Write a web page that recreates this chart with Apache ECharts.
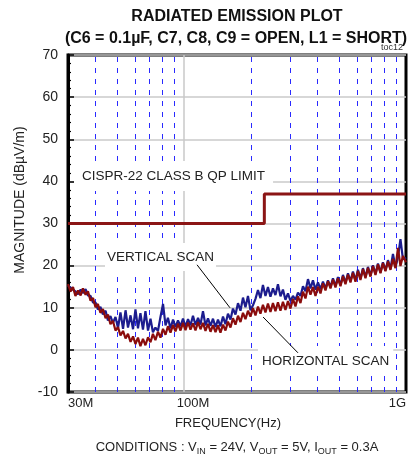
<!DOCTYPE html>
<html>
<head>
<meta charset="utf-8">
<script src="https://cdn.jsdelivr.net/npm/echarts@6/dist/echarts.min.js"></script>
<style>
  html, body { margin: 0; padding: 0; background: #fff; }
  #chart { width: 413px; height: 457px; }
</style>
</head>
<body>
<div id="chart"></div>
<script>
// frequency grid of the scans (MHz)
const freqMHz = [
  30.0, 30.8, 31.6, 32.4, 33.3, 34.2, 35.0, 36.0, 36.9, 37.9,
  38.9, 39.9, 40.9, 42.0, 43.1, 44.3, 45.4, 46.6, 47.8, 49.1,
  50.4, 51.7, 53.1, 54.5, 55.9, 57.4, 58.9, 60.4, 62.0, 63.6,
  65.3, 67.0, 68.8, 70.6, 72.4, 74.3, 76.3, 78.3, 80.4, 82.5,
  84.6, 86.9, 89.2, 91.5, 93.9, 96.4, 98.9, 101.5, 104.2, 106.9,
  109.7, 112.6, 115.6, 118.6, 121.7, 124.9, 128.2, 131.6, 135.0, 138.6,
  142.2, 145.9, 149.8, 153.7, 157.7, 161.9, 166.1, 170.5, 175.0, 179.6,
  184.3, 189.1, 194.1, 199.2, 204.4, 209.8, 215.3, 220.9, 226.7, 232.7,
  238.8, 245.1, 251.5, 258.1, 264.9, 271.9, 279.0, 286.3, 293.9, 301.6,
  309.5, 317.7, 326.0, 334.6, 343.4, 352.4, 361.7, 371.2, 380.9, 391.0,
  401.2, 411.8, 422.6, 433.7, 445.1, 456.8, 468.8, 481.1, 493.7, 506.7,
  520.0, 533.6, 547.7, 562.1, 576.8, 592.0, 607.5, 623.5, 639.9, 656.7,
  673.9, 691.6, 709.8, 728.5, 747.6, 767.3, 787.4, 808.1, 829.4, 851.1,
  873.5, 896.5, 920.0, 944.1, 969.0, 1000
];

// VERTICAL SCAN (dBµV/m)
const verticalScan = [
  15.2, 14.8, 14.3, 13.9, 13.2, 14.3, 13.5, 14.4, 12.9, 12.8,
  11.2, 11.3, 9.6, 10.2, 8.4, 9.3, 7.0, 8.0, 6.4, 7.8,
  5.2, 8.9, 5.0, 9.4, 5.3, 8.2, 4.9, 9.6, 5.1, 8.7,
  4.8, 9.2, 4.6, 7.4, 4.2, 5.3, 4.5, 7.8, 10.9, 5.8,
  7.6, 5.1, 7.2, 5.4, 7.0, 5.6, 7.4, 5.5, 7.3, 5.8,
  8.1, 5.9, 7.6, 6.0, 9.2, 5.8, 7.5, 5.7, 7.4, 5.4,
  7.2, 5.6, 7.9, 6.1, 8.6, 7.2, 9.8, 8.4, 11.1, 9.3,
  12.4, 10.1, 12.8, 9.4, 10.6, 12.1, 14.2, 12.3, 15.4, 12.8,
  14.9, 12.6, 14.6, 13.0, 15.6, 12.7, 14.3, 11.9, 13.4, 11.6,
  12.8, 11.9, 13.6, 12.8, 15.1, 13.9, 16.8, 14.6, 16.5, 14.3,
  16.0, 14.4, 16.2, 14.6, 16.5, 14.9, 17.0, 15.2, 17.3, 15.4,
  17.8, 15.9, 18.2, 16.3, 18.6, 16.5, 19.0, 16.9, 19.4, 17.3,
  19.7, 17.6, 20.1, 18.0, 20.5, 18.4, 20.8, 18.9, 21.3, 19.2,
  22.8, 19.6, 22.0, 26.3, 21.5, 21.9
];

// HORIZONTAL SCAN (dBµV/m)
const horizontalScan = [
  15.6, 13.9, 14.9, 12.8, 14.1, 12.9, 14.6, 13.1, 13.9, 11.7,
  12.3, 10.1, 10.9, 8.8, 9.7, 7.5, 8.4, 6.1, 6.9, 4.6,
  5.4, 3.4, 4.5, 2.7, 3.8, 1.9, 3.2, 1.4, 2.9, 0.9,
  2.6, 1.1, 3.0, 1.8, 3.8, 2.3, 4.3, 2.9, 5.0, 3.6,
  5.6, 4.1, 5.9, 4.4, 6.2, 4.6, 6.4, 4.7, 6.5, 4.8,
  6.3, 4.6, 6.6, 4.9, 6.4, 4.5, 6.2, 4.3, 5.9, 4.2,
  5.8, 4.1, 6.0, 4.6, 6.7, 5.3, 7.5, 6.0, 8.1, 6.6,
  8.8, 7.3, 9.3, 7.9, 9.9, 8.2, 10.3, 8.6, 10.7, 8.9,
  11.0, 9.0, 11.1, 9.2, 11.3, 9.3, 11.4, 9.5, 11.6, 9.8,
  12.1, 10.3, 12.7, 11.1, 13.8, 12.2, 15.0, 13.1, 14.9, 12.8,
  15.0, 13.4, 15.8, 14.1, 16.3, 14.6, 16.7, 14.8, 17.0, 15.1,
  17.5, 15.6, 17.9, 16.0, 18.3, 16.2, 18.7, 16.6, 19.2, 17.0,
  19.5, 17.4, 19.9, 17.8, 20.3, 18.2, 20.6, 18.7, 21.0, 19.0,
  21.6, 19.4, 24.2, 19.9, 22.3, 20.8
];

// CISPR-22 class B QP limit
const limitFreq = [30, 230, 230, 1000];
const limitLevel = [30, 30, 37, 37];

// axis ticks and grid
const xTickValues = [30, 100, 1000];
const xTickLabels = ['30M', '100M', '1G'];
const dashedFreqs = [40, 50, 60, 70, 80, 90, 200, 300, 400, 500, 600, 700, 800, 900];
const solidFreqs = [100];

// annotation arrows: [from freq, from level, to freq, to level]
const arrowVertical = [114.4, 20.2, 161, 10.0];
const arrowHorizontal = [326, -0.7, 227, 7.8];

const FONT = '"Liberation Sans", Arial, sans-serif';
const chart = echarts.init(document.getElementById('chart'), null, { renderer: 'canvas' });

const gridLines = dashedFreqs.map((f) => ({
  xAxis: f,
  lineStyle: { color: '#2a2aff', width: 1, type: [5, 6] },
})).concat(solidFreqs.map((f) => ({
  xAxis: f,
  lineStyle: { color: '#c8c8c8', width: 1.5, type: 'solid' },
})));

const arrowSeg = (a) => [{ coord: [a[0], a[1]] }, { coord: [a[2], a[3]] }];

const option = {
  animation: false,
  backgroundColor: '#fff',
  grid: {
    left: 68, right: 7, top: 55, bottom: 65,
    show: true, borderColor: '#000', borderWidth: 3,
  },
  xAxis: {
    type: 'log',
    logBase: 10,
    min: 30,
    max: 1000,
    axisLine: { show: false },
    axisTick: { show: false },
    splitLine: { show: false },
    axisLabel: {
      customValues: xTickValues,
      formatter: (v) => {
        const i = xTickValues.findIndex((t) => Math.abs(t - v) < 1e-6);
        const txt = i >= 0 ? xTickLabels[i] : '';
        return v > 50 && v < 500 ? '{m|' + txt + '}' : txt;
      },
      alignMinLabel: 'left',
      alignMaxLabel: 'right',
      margin: 5,
      fontSize: 13,
      fontFamily: FONT,
      color: '#222',
      rich: { m: { fontSize: 13, fontFamily: FONT, color: '#222', padding: [0, 0, 0, 18] } },
    },
  },
  yAxis: {
    type: 'value',
    min: -10,
    max: 70,
    interval: 10,
    axisLine: { show: true, lineStyle: { color: '#000', width: 3 } },
    axisTick: { show: true, inside: true, length: 6, lineStyle: { color: '#000', width: 1.5 } },
    minorTick: { show: true, splitNumber: 5, length: 3, lineStyle: { color: '#000', width: 1.2 } },
    splitLine: { show: true, lineStyle: { color: '#cacaca', width: 1.5 } },
    axisLabel: { fontSize: 14, fontFamily: FONT, color: '#222', margin: 10 },
  },
  series: [
    {
      name: 'grid',
      type: 'line',
      data: [],
      z: 1,
      silent: true,
      markLine: { z: 1, silent: true, symbol: 'none', label: { show: false }, data: gridLines },
    },
    {
      name: 'CISPR-22 CLASS B QP LIMIT',
      type: 'line',
      data: limitFreq.map((f, i) => [f, limitLevel[i]]),
      showSymbol: false,
      lineStyle: { color: '#8b1515', width: 3 },
      z: 2,
    },
    {
      name: 'VERTICAL SCAN',
      type: 'line',
      data: freqMHz.map((f, i) => [f, verticalScan[i]]),
      showSymbol: false,
      lineStyle: { color: '#1c1c8e', width: 2.2 },
      z: 2,
    },
    {
      name: 'HORIZONTAL SCAN',
      type: 'line',
      data: freqMHz.map((f, i) => [f, horizontalScan[i]]),
      showSymbol: false,
      lineStyle: { color: '#8a0c0c', width: 2.2 },
      z: 2,
    },
    {
      name: 'arrows',
      type: 'line',
      data: [],
      z: 20,
      silent: true,
      markLine: {
        z: 20,
        silent: true,
        symbol: ['none', 'arrow'],
        symbolSize: [0, 11],
        label: { show: false },
        lineStyle: { color: '#000', width: 1, type: 'solid' },
        data: [arrowSeg(arrowVertical), arrowSeg(arrowHorizontal)],
      },
    },
  ],
  graphic: [
    {
      type: 'text', x: 237, y: 17, z: 10,
      style: { text: 'RADIATED EMISSION PLOT', font: 'bold 16px ' + FONT, fill: '#111', align: 'center', verticalAlign: 'middle' },
    },
    {
      type: 'text', x: 236, y: 39, z: 10,
      style: { text: '(C6 = 0.1µF, C7, C8, C9 = OPEN, L1 = SHORT)', font: 'bold 16px ' + FONT, fill: '#111', align: 'center', verticalAlign: 'middle' },
    },
    {
      type: 'text', x: 403, y: 48, z: 10,
      style: { text: 'toc12', font: '9px ' + FONT, fill: '#333', align: 'right', verticalAlign: 'middle' },
    },
    {
      type: 'text', x: 20, y: 200, z: 10, rotation: Math.PI / 2,
      style: { text: 'MAGNITUDE (dBµV/m)', font: '14px ' + FONT, fill: '#222', align: 'center', verticalAlign: 'middle' },
    },
    {
      type: 'text', x: 228, y: 423, z: 10,
      style: { text: 'FREQUENCY(Hz)', font: '13px ' + FONT, fill: '#222', align: 'center', verticalAlign: 'middle' },
    },
    {
      type: 'text', x: 237, y: 447, z: 10,
      style: {
        text: 'CONDITIONS : V{s|IN} = 24V, V{s|OUT} = 5V, I{s|OUT} = 0.3A',
        font: '13px ' + FONT, fill: '#222', align: 'center', verticalAlign: 'middle',
        lineHeight: 18,
        rich: { s: { fontSize: 9, fontFamily: FONT, fill: '#222', verticalAlign: 'bottom', lineHeight: 9 } },
      },
    },
    {
      type: 'text', x: 74, y: 176, z: 10,
      style: {
        text: 'CISPR-22 CLASS B QP LIMIT', font: '13.5px ' + FONT, fill: '#222',
        align: 'left', verticalAlign: 'middle', backgroundColor: '#fff', padding: [8, 8, 8, 8],
      },
    },
    {
      type: 'text', x: 105, y: 257, z: 10,
      style: {
        text: 'VERTICAL SCAN', font: '13.5px ' + FONT, fill: '#222',
        align: 'left', verticalAlign: 'middle', backgroundColor: '#fff', padding: [7, 2, 7, 2],
      },
    },
    {
      type: 'text', x: 258, y: 361, z: 10,
      style: {
        text: 'HORIZONTAL SCAN', font: '13.5px ' + FONT, fill: '#222',
        align: 'left', verticalAlign: 'middle', backgroundColor: '#fff', padding: [8, 4, 8, 4],
      },
    },
  ],
};

chart.setOption(option);
</script>
</body>
</html>
